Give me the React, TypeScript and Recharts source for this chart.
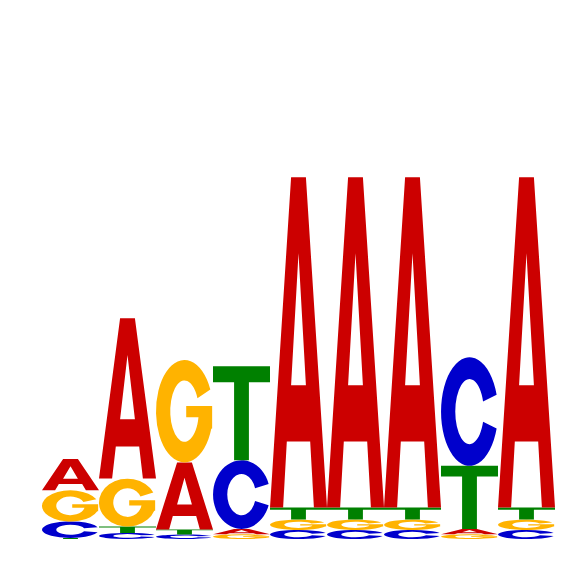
import React from 'react';
import { BarChart, Bar, XAxis, YAxis } from 'recharts';

// information content per letter (bits) at each motif position
const positions = ['1', '2', '3', '4', '5', '6', '7', '8', '9'];
const bitsA = [0.118, 0.603, 0.252, 0.02, 1.242, 1.242, 1.242, 0.02, 1.242];
const bitsC = [0.062, 0.023, 0.017, 0.258, 0.034, 0.034, 0.034, 0.408, 0.034];
const bitsG = [0.117, 0.18, 0.385, 0.018, 0.039, 0.039, 0.039, 0.018, 0.039];
const bitsT = [0.004, 0.024, 0.019, 0.353, 0.045, 0.045, 0.045, 0.237, 0.045];

const COLORS: Record<string, string> = { A: '#CC0000', C: '#0000CC', G: '#FFB300', T: '#008000' };

// glyphs drawn in a 100x100 box, stretched to the bar rect
const GLYPHS: Record<string, string> = {
  A: 'M0,100 L37,0 L63,0 L100,100 L77,100 L70.5,80 L29.5,80 L23,100 Z M50,23 L37,63 L63,63 Z',
  C: 'M97.6,34.5 A50,50 0 1 0 97.6,65.5 L73.8,59.3 A25,30 0 1 1 73.8,40.7 Z',
  G: 'M95.3,28.9 A50,50 0 1 0 97,67.1 L98.5,67 L98.5,45 L53,45 L53,56 L74.5,56 A25,30 0 1 1 72.7,37.3 Z',
  T: 'M0,0 H100 V17 H63 V100 H37 V17 H0 Z',
};

// each position is stacked smallest letter at the bottom
const rows = positions.map((pos, i) => {
  const items = [
    { l: 'A', v: bitsA[i] },
    { l: 'C', v: bitsC[i] },
    { l: 'G', v: bitsG[i] },
    { l: 'T', v: bitsT[i] },
  ].sort((a, b) => a.v - b.v);
  const row: Record<string, any> = { pos };
  items.forEach((it, k) => {
    row['h' + k] = it.v;
    row['l' + k] = it.l;
  });
  return row;
});

function Letter(props: any) {
  const { x, y, width, height, letter } = props;
  if (!letter || !(height > 0) || !(width > 0)) return null;
  return (
    <path
      d={GLYPHS[letter]}
      fill={COLORS[letter]}
      fillRule="evenodd"
      transform={`translate(${x},${y}) scale(${width / 100},${height / 100})`}
    />
  );
}

export default function App() {
  return (
    <div style={{ position: 'fixed', left: 0, top: 0, width: 566, height: 566, background: '#fff' }}>
      <BarChart width={566} height={566} data={rows}
        margin={{ top: 7, right: 11, bottom: 27, left: 42 }}
        barCategoryGap={0} barGap={0}>
        <XAxis dataKey="pos" hide />
        <YAxis type="number" domain={[0, 2]} hide />
        {[0, 1, 2, 3].map((k) => (
          <Bar key={k} dataKey={'h' + k} stackId="logo" isAnimationActive={false}
            shape={(p: any) => <Letter {...p} letter={p.payload['l' + k]} />} />
        ))}
      </BarChart>
    </div>
  );
}
